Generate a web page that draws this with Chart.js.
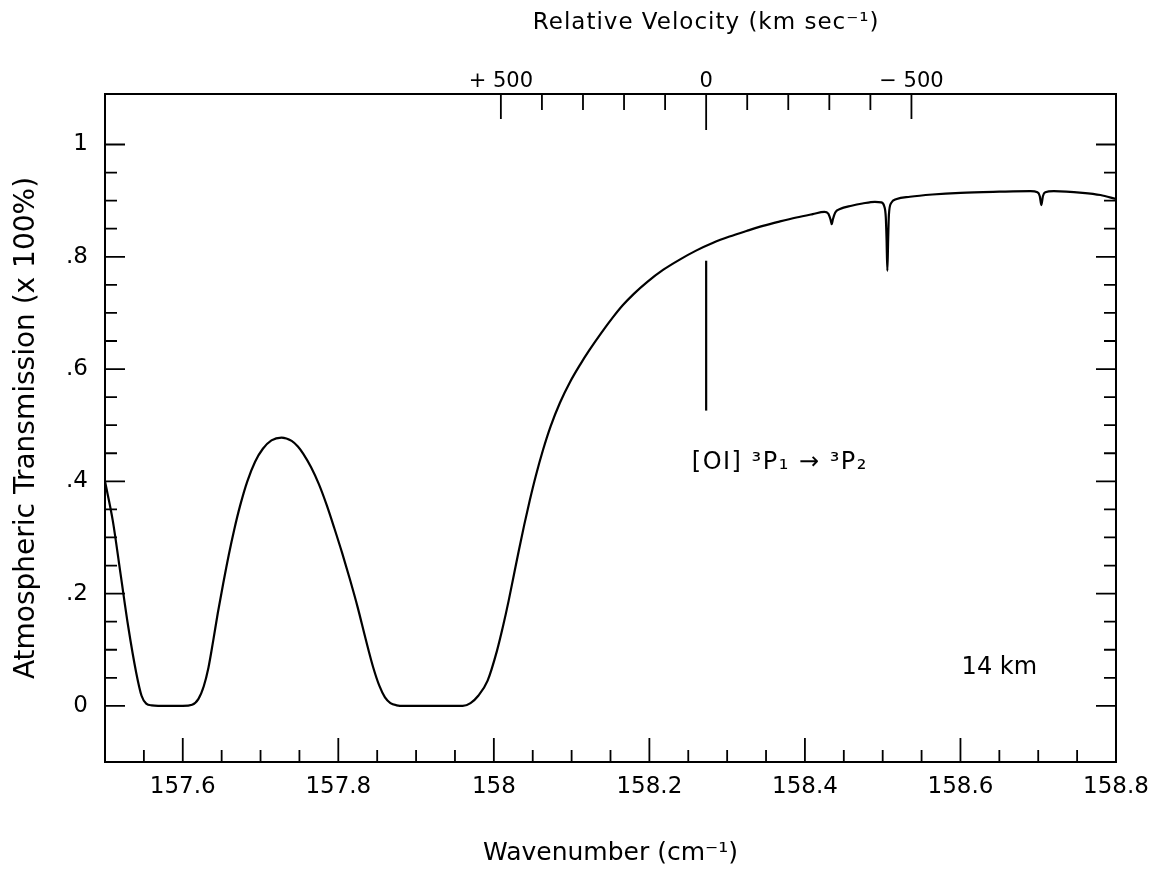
<!DOCTYPE html>
<html>
<head>
<meta charset="utf-8">
<script src="https://cdn.jsdelivr.net/npm/chart.js@4.4.1/dist/chart.umd.min.js"></script>
<style>
  body { margin: 0; background: #fff; }
  #wrap { width: 1162px; height: 873px; }
</style>
</head>
<body>
<div id="wrap"><canvas id="transCanvas"></canvas></div>
<script>
// wavenumber (cm-1) and atmospheric transmission
const wavenumber = [
  157.500, 157.510, 157.520, 157.530, 157.540, 157.547, 157.553, 157.560, 157.580, 157.600,
  157.612, 157.620, 157.627, 157.633, 157.639, 157.645, 157.652, 157.659, 157.666, 157.674,
  157.683, 157.693, 157.703, 157.714, 157.727, 157.740, 157.748, 157.755, 157.765, 157.775,
  157.785, 157.795, 157.805, 157.815, 157.825, 157.835, 157.845, 157.853, 157.860, 157.867,
  157.875, 157.885, 157.920, 157.960, 157.970, 157.980, 157.992, 158.004, 158.012, 158.019,
  158.026, 158.032, 158.039, 158.046, 158.054, 158.063, 158.073, 158.085, 158.098, 158.111,
  158.123, 158.138, 158.153, 158.166, 158.180, 158.197, 158.218, 158.239, 158.260, 158.282,
  158.303, 158.325, 158.346, 158.368, 158.389, 158.410, 158.425, 158.430, 158.433, 158.4345,
  158.436, 158.439, 158.445, 158.460, 158.474, 158.490, 158.498, 158.502, 158.504, 158.505,
  158.506, 158.507, 158.508, 158.511, 158.518, 158.535, 158.564, 158.600, 158.650, 158.690,
  158.699, 158.702, 158.704, 158.706, 158.709, 158.720, 158.757, 158.780, 158.800
];
const transmission = [
  0.400, 0.330, 0.235, 0.140, 0.060, 0.018, 0.004, 0.001, 0.000, 0.000,
  0.002, 0.012, 0.035, 0.068, 0.115, 0.165, 0.218, 0.268, 0.313, 0.358,
  0.400, 0.435, 0.458, 0.473, 0.478, 0.472, 0.462, 0.449, 0.425, 0.395,
  0.358, 0.316, 0.272, 0.225, 0.175, 0.120, 0.068, 0.035, 0.015, 0.005,
  0.001, 0.000, 0.000, 0.000, 0.005, 0.018, 0.045, 0.098, 0.143, 0.187,
  0.235, 0.276, 0.322, 0.365, 0.410, 0.455, 0.498, 0.540, 0.577, 0.608,
  0.634, 0.664, 0.692, 0.714, 0.734, 0.755, 0.777, 0.795, 0.811, 0.825,
  0.836, 0.846, 0.855, 0.863, 0.870, 0.876, 0.880, 0.877, 0.866, 0.858,
  0.867, 0.879, 0.885, 0.891, 0.895, 0.898, 0.897, 0.890, 0.870, 0.830,
  0.775, 0.830, 0.875, 0.896, 0.903, 0.907, 0.911, 0.914, 0.916, 0.917,
  0.915, 0.908, 0.892, 0.908, 0.915, 0.917, 0.914, 0.910, 0.903
];

// axis ticks
const xTicks = [157.6, 157.8, 158, 158.2, 158.4, 158.6, 158.8];
const xTickLabels = ["157.6", "157.8", "158", "158.2", "158.4", "158.6", "158.8"];
const yTicks = [0, 0.2, 0.4, 0.6, 0.8, 1];
const yTickLabels = ["0", ".2", ".4", ".6", ".8", "1"];
const velTicks = [500, 0, -500];
const velTickLabels = ["+ 500", "0", "\u2212 500"];

// [OI] 3P1 -> 3P2 rest position marker
const oiLineX = [158.273, 158.273];
const oiLineY = [0.526, 0.793];

const NU0 = 158.273;
const C_KMS = 299792.458;
const X_MIN = 157.5, X_MAX = 158.8;
const Y_MIN = -0.1, Y_MAX = 1.09;

function toVelocity(nu) {
  return C_KMS * (NU0 - nu) / NU0;
}

Chart.defaults.font.family = "'DejaVu Sans', sans-serif";
Chart.defaults.color = "#000";

// frame, inward tick marks and the text notes
const frameTicks = {
  id: "frameTicks",
  afterDraw(chart) {
    const { ctx, chartArea: a, scales } = chart;
    const x = scales.x, y = scales.y, v = scales.x2;
    ctx.save();
    ctx.strokeStyle = "#000";
    ctx.lineWidth = 2;
    ctx.strokeRect(a.left, a.top, a.right - a.left, a.bottom - a.top);

    ctx.lineWidth = 1.8;
    ctx.beginPath();
    for (let i = 1; i <= 25; i++) {
      const px = x.getPixelForValue(X_MIN + i * 0.05);
      const len = (i % 4 === 2) ? 24 : 12;
      ctx.moveTo(px, a.bottom);
      ctx.lineTo(px, a.bottom - len);
    }
    for (let j = 0; j <= 20; j++) {
      const py = y.getPixelForValue(j * 0.05);
      const len = (j % 4 === 0) ? 20 : 12;
      ctx.moveTo(a.left, py);
      ctx.lineTo(a.left + len, py);
      ctx.moveTo(a.right, py);
      ctx.lineTo(a.right - len, py);
    }
    for (let k = -5; k <= 5; k++) {
      const px = v.getPixelForValue(k * 100);
      const len = k === 0 ? 36 : (Math.abs(k) === 5 ? 25 : 16);
      ctx.moveTo(px, a.top);
      ctx.lineTo(px, a.top + len);
    }
    ctx.stroke();

    ctx.fillStyle = "#000";
    ctx.textBaseline = "middle";
    ctx.textAlign = "center";
    ctx.letterSpacing = "1px";
    ctx.font = "23px 'DejaVu Sans'";
    ctx.fillText("Relative Velocity (km sec\u207B\u00B9)", v.getPixelForValue(0), 23);

    ctx.textAlign = "left";
    ctx.letterSpacing = "1.5px";
    ctx.font = "24px 'DejaVu Sans'";
    ctx.fillText("[OI] \u00B3P\u2081 \u2192 \u00B3P\u2082", x.getPixelForValue(158.2545), y.getPixelForValue(0.433));

    ctx.textAlign = "center";
    ctx.letterSpacing = "0px";
    ctx.fillText("14 km", x.getPixelForValue(158.650), y.getPixelForValue(0.068));
    ctx.restore();
  }
};

const transCanvas = document.getElementById("transCanvas");

const transChart = new Chart(transCanvas, {
  type: "line",
  data: {
    datasets: [{
      label: "Transmission",
      data: wavenumber.map((w, i) => ({ x: w, y: transmission[i] })),
      borderColor: "#000",
      borderWidth: 2.2,
      pointRadius: 0,
      cubicInterpolationMode: "monotone",
      fill: false,
    }, {
      label: "[OI]",
      data: oiLineX.map((w, i) => ({ x: w, y: oiLineY[i] })),
      borderColor: "#000",
      borderWidth: 2.2,
      pointRadius: 0,
      fill: false,
    }],
  },
  options: {
    responsive: true,
    maintainAspectRatio: false,
    animation: false,
    layout: { padding: { right: 46, top: 0, bottom: 0, left: 0 } },
    plugins: {
      legend: { display: false },
      tooltip: { enabled: false },
    },
    scales: {
      x: {
        type: "linear",
        position: "bottom",
        min: X_MIN,
        max: X_MAX,
        grid: { display: false, drawTicks: false },
        border: { display: false },
        afterBuildTicks: (s) => { s.ticks = xTicks.map(t => ({ value: t })); },
        afterFit: (s) => { s.height = 111; },
        ticks: {
          autoSkip: false,
          maxRotation: 0,
          padding: 11,
          font: { size: 23 },
          callback: (val, i) => xTickLabels[i],
        },
        title: {
          display: true,
          text: "Wavenumber (cm\u207B\u00B9)",
          font: { size: 25 },
          padding: { top: 0, bottom: 5 },
        },
      },
      x2: {
        type: "linear",
        axis: "x",
        position: "top",
        reverse: true,
        min: toVelocity(X_MAX),
        max: toVelocity(X_MIN),
        grid: { display: false, drawTicks: false },
        border: { display: false },
        afterBuildTicks: (s) => { s.ticks = velTicks.map(t => ({ value: t })); },
        afterFit: (s) => { s.height = 94; },
        ticks: {
          autoSkip: false,
          maxRotation: 0,
          padding: 0,
          font: { size: 21 },
          callback: (val, i) => velTickLabels[i],
        },
      },
      y: {
        type: "linear",
        min: Y_MIN,
        max: Y_MAX,
        grid: { display: false, drawTicks: false },
        border: { display: false },
        afterBuildTicks: (s) => { s.ticks = yTicks.map(t => ({ value: t })); },
        afterFit: (s) => { s.width = 105; },
        ticks: {
          padding: 17,
          font: { size: 23 },
          callback: (val, i) => yTickLabels[i],
        },
        title: {
          display: true,
          text: "Atmospheric Transmission (x 100%)",
          font: { size: 28 },
          padding: { top: 10, bottom: 0 },
        },
      },
    },
  },
  plugins: [frameTicks],
});
</script>
</body>
</html>
